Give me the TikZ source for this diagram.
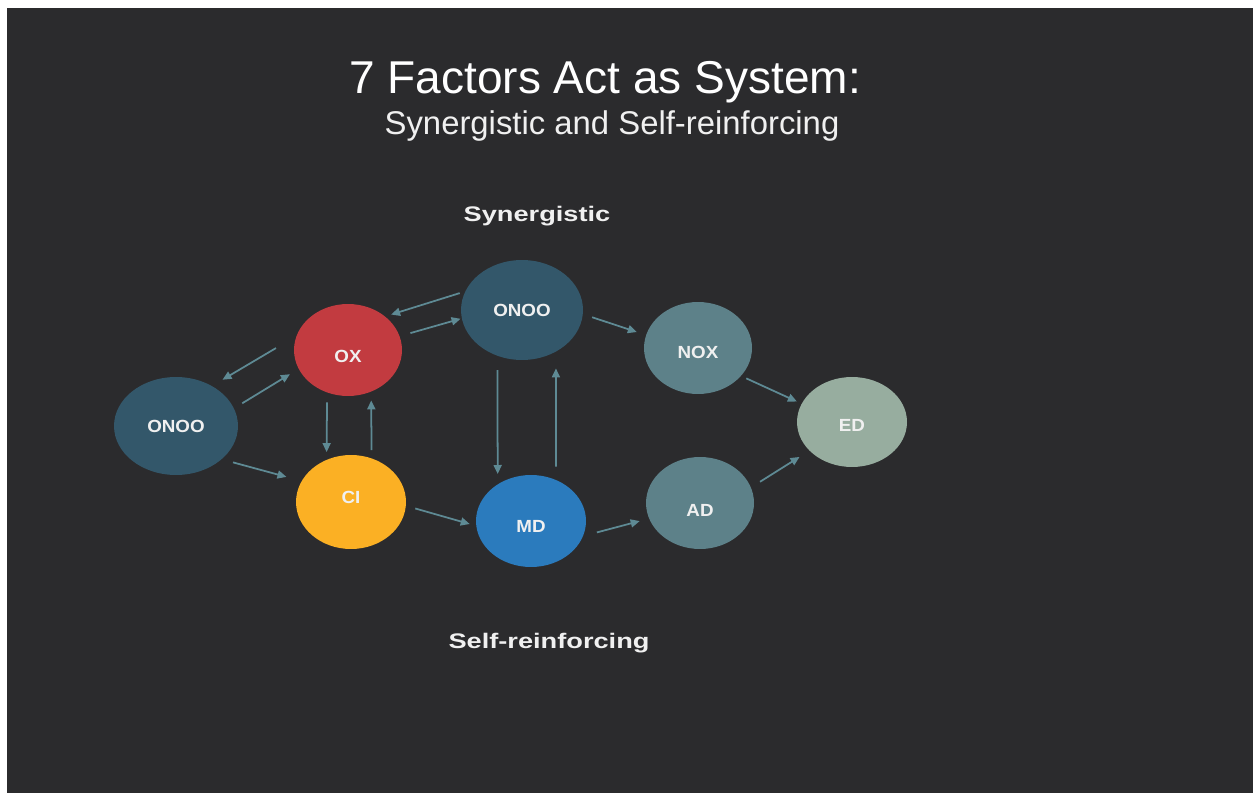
\documentclass[tikz,border=0pt]{standalone}
\usepackage{fontspec}
\setmainfont{Liberation Sans}
\newfontfamily\headfont{Liberation Sans}[FakeStretch=1.29]
\newfontfamily\nodefont{Liberation Sans}[FakeStretch=1.07]
\usetikzlibrary{shapes.geometric,arrows.meta}

\definecolor{bg}{HTML}{2B2B2D}
\definecolor{onoocol}{HTML}{33576A}
\definecolor{oxcol}{HTML}{C23B40}
\definecolor{cicol}{HTML}{FBB024}
\definecolor{mdcol}{HTML}{2B7BBD}
\definecolor{noxcol}{HTML}{5D8189}
\definecolor{edcol}{HTML}{97AD9F}
\definecolor{linkcol}{HTML}{5E8A94}
\definecolor{txt}{HTML}{F0F0F0}

\begin{document}
\begin{tikzpicture}[
    x = 0.02cm, y = -0.02cm,
    factor/.style = {ellipse, inner sep=0pt},
    tag/.style = {text=txt, font=\nodefont\bfseries\fontsize{10}{12}\selectfont},
    head/.style = {text=txt, anchor=base, font=\headfont\bfseries\fontsize{12}{14}\selectfont},
    link/.style = {linkcol, line width=1pt, -{Triangle[length=0.18cm, width=0.16cm]}}
]

\fill[white] (0,0) rectangle (1253,793);
\fill[bg] (7,8) rectangle (1253,793);
\useasboundingbox (0,0) rectangle (1253,793);

% titles
\node[anchor=base, text=white, font=\fontsize{26.2}{30}\selectfont] (title) at (605,94) {7 Factors Act as System:};
\node[anchor=base, text=txt, font=\fontsize{18.7}{22}\selectfont] (subtitle) at (612,135) {Synergistic and Self-reinforcing};
\node[head] (syn) at (537,222) {Synergistic};
\node[head] (self) at (549,648) {Self-reinforcing};

% factors
\node[factor, fill=onoocol, minimum width=2.48cm, minimum height=1.96cm,
      label={[tag]center:ONOO}] (onoo1) at (176,426) {};
\node[factor, fill=oxcol, minimum width=2.16cm, minimum height=1.84cm,
      label={[tag, yshift=-0.12cm]center:OX}] (ox) at (348,350) {};
\node[factor, fill=cicol, minimum width=2.2cm, minimum height=1.88cm,
      label={[tag, yshift=0.1cm]center:CI}] (ci) at (351,502) {};
\node[factor, fill=onoocol, minimum width=2.44cm, minimum height=2cm,
      label={[tag]center:ONOO}] (onoo2) at (522,310) {};
\node[factor, fill=mdcol, minimum width=2.2cm, minimum height=1.84cm,
      label={[tag, yshift=-0.1cm]center:MD}] (md) at (531,521) {};
\node[factor, fill=noxcol, minimum width=2.16cm, minimum height=1.84cm,
      label={[tag, yshift=-0.08cm]center:NOX}] (nox) at (698,348) {};
\node[factor, fill=noxcol, minimum width=2.16cm, minimum height=1.84cm,
      label={[tag, yshift=-0.14cm]center:AD}] (ad) at (700,503) {};
\node[factor, fill=edcol, minimum width=2.2cm, minimum height=1.8cm,
      label={[tag, yshift=-0.06cm]center:ED}] (ed) at (852,422) {};

% links
\draw[link, shorten <=0.47cm, shorten >=0.24cm] (ox.165) -- (onoo1.48);
\draw[link, shorten <=0.19cm, shorten >=0.2cm] (onoo1.17) -- (ox.201);
\draw[link, shorten <=0.19cm, shorten >=0.15cm] (ox.244) -- (ci.120);
\draw[link, shorten <=0.16cm, shorten >=0.17cm] (ci.65) -- (ox.299);
\draw[link, shorten <=0.23cm, shorten >=0.31cm] (onoo1.324) -- (ci.157);
\draw[link, shorten <=0.11cm, shorten >=0.12cm] (onoo2.162) -- (ox.42);
\draw[link, shorten <=0.22cm, shorten >=0.02cm] (ox.15) -- (onoo2.188);
\draw[link, shorten <=0.19cm, shorten >=0.19cm] (onoo2.356) -- (nox.166);
\draw[link, shorten <=0.28cm, shorten >=0.2cm] (onoo2.242) -- (md.132);
\draw[link, shorten <=0.26cm, shorten >=0.33cm] (md.59) -- (onoo2.309);
\draw[link, shorten <=0.19cm, shorten >=0.13cm] (ci.356) -- (md.185);
\draw[link, shorten <=0.28cm, shorten >=0.19cm] (md.344) -- (ad.197);
\draw[link, shorten <=0.11cm, shorten >=0.1cm] (nox.327) -- (ed.160);
\draw[link, shorten <=0.21cm, shorten >=0.23cm] (ad.17) -- (ed.214);

\end{tikzpicture}
\end{document}
